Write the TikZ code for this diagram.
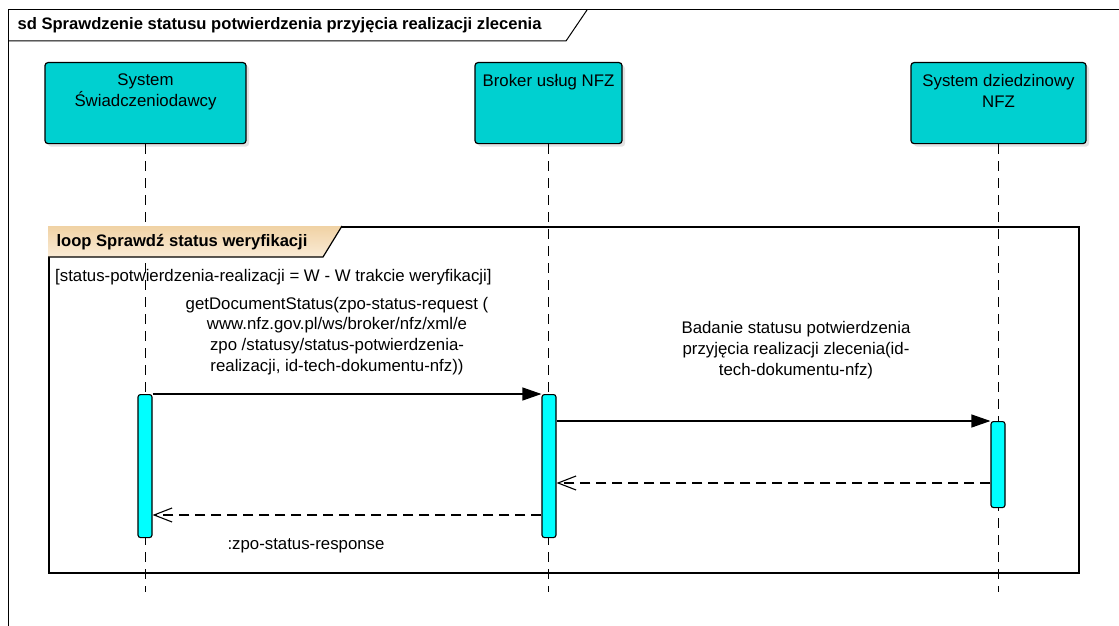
\documentclass[tikz,border=0pt]{standalone}
\usepackage{fontspec}
\setmainfont{Liberation Sans}
\usetikzlibrary{arrows.meta,shadows,positioning}
\definecolor{boxdark}{HTML}{00D0D0}
\definecolor{boxlight}{HTML}{00FFFF}
\definecolor{tabtop}{HTML}{F0D2A4}
\definecolor{tabbot}{HTML}{FAEBD6}
\tikzset{
  actor/.style={draw,line width=1.2pt,rounded corners=3pt,anchor=north,minimum height=81pt,
    left color=boxdark,middle color=boxlight,right color=boxdark,
    drop shadow={shadow xshift=3pt,shadow yshift=-3pt,fill=black!22}},
  actortext/.style={align=center,inner sep=0pt,anchor=north},
  lifeline/.style={line width=1.2pt,dash pattern=on 10pt off 7pt},
  bar/.style={draw,line width=1.1pt,fill=boxlight,rounded corners=2.5pt,anchor=north,
    minimum width=14pt,inner sep=0pt},
  call/.style={line width=1.1pt,-{Triangle[length=19pt,width=13pt]}},
  reply/.style={line width=1.1pt,dash pattern=on 10pt off 6pt,-{Straight Barb[length=18pt,width=14pt,line width=1.1pt]}},
  msgtext/.style={align=center,inner sep=0pt}
}
\begin{document}
\begin{tikzpicture}[x=1pt,y=-1pt,font=\fontsize{16.8}{20.8}\selectfont]
  \useasboundingbox (0,0) rectangle (1119,626);
  % diagram frame
  \draw[line width=1pt] (1119,10) -- (8,10) -- (8,626);
  \draw[line width=1pt] (8,41) -- (566,41) -- (587,10);
  \node[anchor=west,font=\fontsize{16.6}{18}\selectfont\bfseries] (title) at (14,25)
    {sd Sprawdzenie statusu potwierdzenia przyjęcia realizacji zlecenia};

  % lifelines
  \node[actor,minimum width=201pt] (sw) at (145.5,62) {};
  \node[actor,minimum width=147pt] (br) at (548.5,62) {};
  \node[actor,minimum width=175pt] (dz) at (998.5,62) {};
  \node[actortext,below=12pt of sw.north] (swtxt) {System\\Świadczeniodawcy};
  \node[actortext,below=12pt of br.north] (brtxt) {Broker usług NFZ};
  \node[actortext,below=12pt of dz.north] (dztxt) {System dziedzinowy\\NFZ};
  \coordinate (lineend) at (0,592);
  \foreach \a in {sw,br,dz}
    \draw[lifeline] (\a.south) -- (\a.south |- lineend);

  % loop fragment
  \node[draw,line width=1.8pt,anchor=north west,minimum width=1030pt,minimum height=346pt,
    inner sep=0pt] (loop) at (48,226) {};
  \shade[top color=tabtop,bottom color=tabbot] (48,226) -- (342,226) -- (323,257) -- (48,257) -- cycle;
  \draw[line width=1.2pt] (48,257) -- (323,257) -- (342,226);
  \node[anchor=west,font=\fontsize{16.6}{18}\selectfont\bfseries] (looptitle) at (53,242)
    {loop Sprawdź status weryfikacji};
  \node[anchor=west,inner sep=0pt] (guard) at (55,277)
    {[status-potwierdzenia-realizacji = W - W trakcie weryfikacji]};

  % activations
  \node[bar,minimum height=143pt] (a1) at (145,394) {};
  \node[bar,minimum height=143pt] (a2) at (549,394) {};
  \node[bar,minimum height=86pt] (a3) at (998,421) {};

  % messages
  \coordinate (m1) at (0,394);
  \coordinate (m2) at (0,421);
  \coordinate (m3) at (0,483);
  \coordinate (m4) at (0,515);
  \draw[call] (a1.east |- m1) -- (a2.west |- m1);
  \node[msgtext] (m1txt) at (337,336)
    {getDocumentStatus(zpo-status-request (\\www.nfz.gov.pl/ws/broker/nfz/xml/e\\zpo /statusy/status-potwierdzenia-\\realizacji, id-tech-dokumentu-nfz))};
  \draw[call] (a2.east |- m2) -- (a3.west |- m2);
  \node[msgtext] (m2txt) at (796,350)
    {Badanie statusu potwierdzenia\\przyjęcia realizacji zlecenia(id-\\tech-dokumentu-nfz)};
  \draw[reply] (a3.west |- m3) -- (a2.east |- m3);
  \draw[reply] (a2.west |- m4) -- (a1.east |- m4);
  \node[msgtext] (m4txt) at (306,546) {:zpo-status-response};
\end{tikzpicture}
\end{document}
